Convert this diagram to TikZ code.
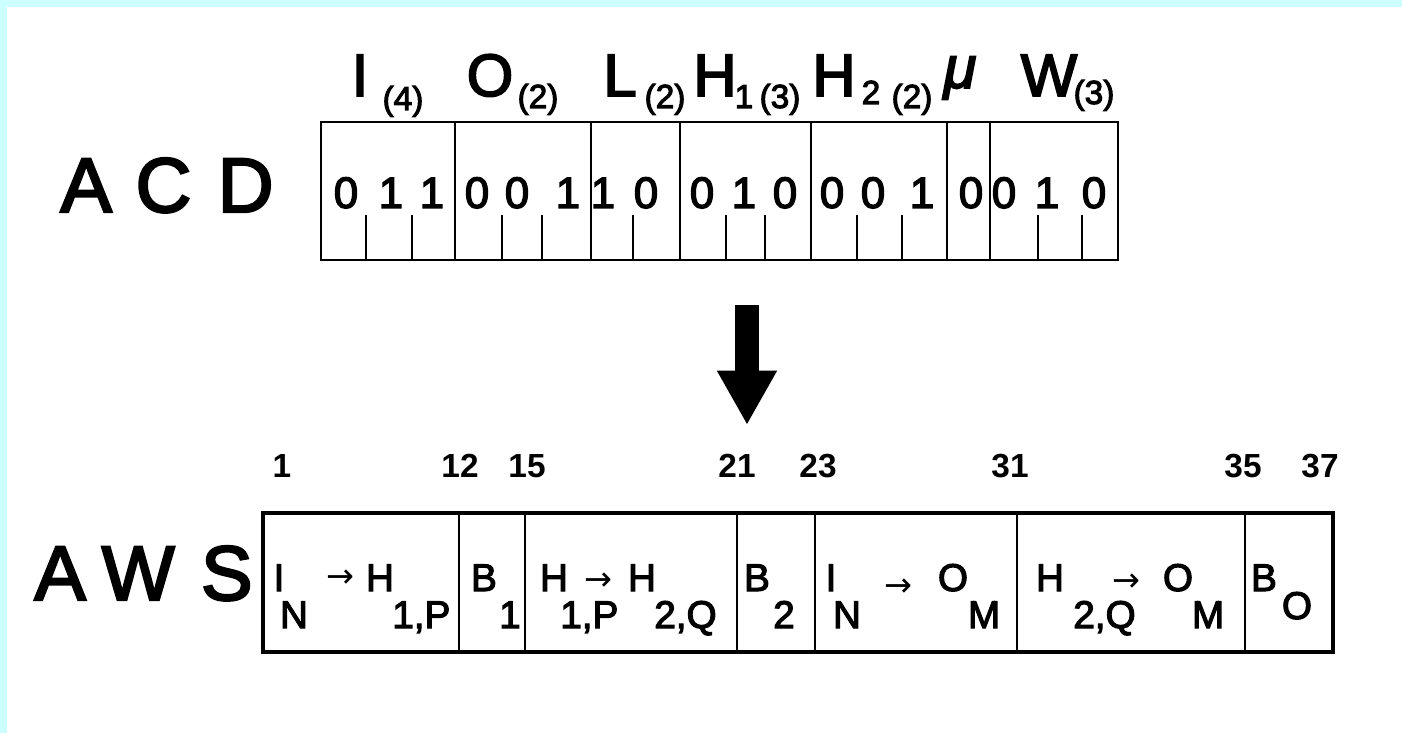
\documentclass[tikz,border=0pt]{standalone}
\usepackage{fontspec}
\setmainfont{Liberation Sans}
\newfontfamily\scanfont{Liberation Sans}[FakeBold=3]
\newfontfamily\arrowfont{DejaVu Sans}
\usepackage{xcolor}
\usetikzlibrary{arrows.meta}
\definecolor{framecyan}{HTML}{CCFFFF}

\begin{document}
\begin{tikzpicture}[x=0.02cm,y=-0.02cm,
  bigtag/.style={font=\scanfont\fontsize{44}{50}\selectfont,anchor=base west,inner sep=0},
  fieldlbl/.style={font=\scanfont\fontsize{34}{40}\selectfont,anchor=base,inner sep=0},
  fieldsub/.style={font=\scanfont\fontsize{19}{22}\selectfont,anchor=base,inner sep=0},
  bitval/.style={font=\scanfont\fontsize{25}{30}\selectfont,anchor=base,inner sep=0},
  cellmain/.style={font=\scanfont\fontsize{22}{26}\selectfont,anchor=base,inner sep=0},
  cellsub/.style={font=\scanfont\fontsize{22}{26}\selectfont,anchor=base west,inner sep=0},
  cellarrow/.style={font=\arrowfont\fontsize{19}{22}\selectfont,inner sep=0},
  posnum/.style={font=\bfseries\fontsize{19}{22}\selectfont,anchor=base,inner sep=0},
  thinline/.style={line width=1.1pt},
  tickline/.style={line width=0.9pt},
  thickline/.style={line width=2.6pt}
]
  \fill[framecyan] (0,0) rectangle (1402,733);
  \fill[white] (7,7) rectangle (1402,733);
  \useasboundingbox (0,0) rectangle (1402,733);

  % chromosome ACD
  \node[bigtag] (acd) at (60,212) {A\hspace{13.5pt}C\hspace{15pt}D};
  \draw[thinline] (321,122) rectangle (1118,260);
  \foreach \x in {455,591,680,811,947,990}
    \draw[thinline] (\x,122) -- (\x,260);
  \foreach \x in {366,412,502,542,633,726,765,857,902,1038,1082}
    \draw[tickline] (\x,215) -- (\x,260);
  \foreach \x/\b [count=\i] in {346/0,391/1,432/1,477/0,517/0,568/1,603/1,646/0,
      702/0,744/1,785/0,832/0,873/0,922/1,971/0,1004/0,1047/1,1094/0}
    \node[bitval] (bit\i) at (\x,208) {\b};

  \node[fieldlbl] (fI) at (360,96) {I};
  \node[fieldsub] (fIn) at (403,110) {(4)};
  \node[fieldlbl] (fO) at (490,96) {O};
  \node[fieldsub] (fOn) at (538,108) {(2)};
  \node[fieldlbl] (fL) at (620,96) {L};
  \node[fieldsub] (fLn) at (665,108) {(2)};
  \node[fieldlbl] (fHa) at (715,96) {H};
  \node[fieldsub] (fHai) at (744,108) {1};
  \node[fieldsub] (fHan) at (780,108) {(3)};
  \node[fieldlbl] (fHb) at (834,96) {H};
  \node[fieldsub] (fHbi) at (871,104) {2};
  \node[fieldsub] (fHbn) at (912,108) {(2)};
  \node[fieldlbl] (fmu) at (960,88) {\itshape μ};
  \node[fieldlbl] (fW) at (1049,96) {W};
  \node[fieldsub] (fWn) at (1094,104) {(3)};

  % decoding
  \coordinate (flowtop) at (747,305);
  \coordinate (flowtip) at (747,425);
  \draw[line width=13.2pt,-{Triangle[width=32pt,length=31pt]}] (flowtop) -- (flowtip);

  % weight string AWS
  \foreach \x/\n [count=\i] in {282/1,460/12,527/15,737/21,818/23,1010/31,1243/35,1320/37}
    \node[posnum] (num\i) at (\x,477) {\n};
  \node[bigtag] (aws) at (34,600) {A\hspace{9pt}W\hspace{15pt}S};
  \draw[thickline] (263,513) rectangle (1333,652);
  \foreach \x in {459,525,737,815,1017,1245}
    \draw[thinline] (\x,513) -- (\x,652);

  \node[cellmain] (c1a) at (279,591) {I};
  \node[cellmain] (c1b) at (294,628) {N};
  \node[cellarrow] (c1r) at (340,579) {→};
  \node[cellmain] (c1c) at (380,591) {H};
  \node[cellsub] (c1d) at (392,628) {1,P};

  \node[cellmain] (c2a) at (484,591) {B};
  \node[cellmain] (c2b) at (510,628) {1};

  \node[cellmain] (c3a) at (554,591) {H};
  \node[cellsub] (c3b) at (560,628) {1,P};
  \node[cellarrow] (c3r) at (598,582) {→};
  \node[cellmain] (c3c) at (642,591) {H};
  \node[cellsub] (c3d) at (654,628) {2,Q};

  \node[cellmain] (c4a) at (757,591) {B};
  \node[cellmain] (c4b) at (784,628) {2};

  \node[cellmain] (c5a) at (831,591) {I};
  \node[cellmain] (c5b) at (847,628) {N};
  \node[cellarrow] (c5r) at (898,588) {→};
  \node[cellmain] (c5c) at (953,591) {O};
  \node[cellmain] (c5d) at (984,628) {M};

  \node[cellmain] (c6a) at (1050,591) {H};
  \node[cellsub] (c6b) at (1073,628) {2,Q};
  \node[cellarrow] (c6r) at (1126,583) {→};
  \node[cellmain] (c6c) at (1178,591) {O};
  \node[cellmain] (c6d) at (1208,628) {M};

  \node[cellmain] (c7a) at (1264,591) {B};
  \node[cellmain] (c7b) at (1297,619) {O};
\end{tikzpicture}
\end{document}
